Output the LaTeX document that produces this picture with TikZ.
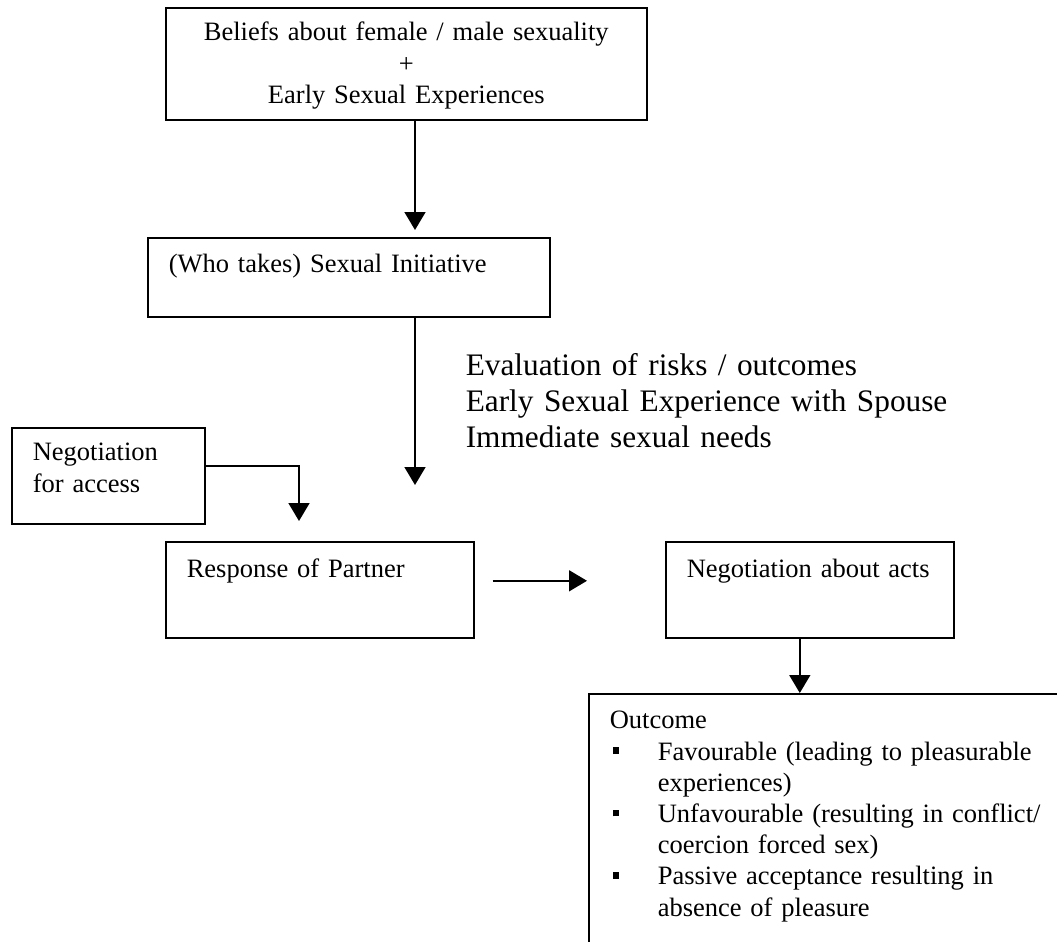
\documentclass[tikz,border=0pt]{standalone}
\usepackage{fontspec}
\setmainfont{Liberation Serif}
\usepackage{tikz}
\usetikzlibrary{arrows.meta}
\newcommand\boxfont{\fontsize{13.25pt}{15.6pt}\selectfont}
\newcommand\bigfont{\fontsize{15.65pt}{18pt}\selectfont}
\newcommand\bul{\makebox[24pt][l]{\hspace{1.5pt}\rule[3pt]{3pt}{3.3pt}}}
\tikzset{
  bx/.style={draw,line width=0.8pt,anchor=north west,inner xsep=10.5pt,inner ysep=0pt,align=left,font=\boxfont},
}

\begin{document}
\begin{tikzpicture}[x=0.5pt,y=-0.5pt,->,>={Triangle[length=9pt,width=10.5pt]},line width=0.8pt,
   txt/.style={anchor=base west,inner sep=0pt,align=left,font=\bigfont}]
\useasboundingbox (0,0) rectangle (1057,942);
% Kaesten
\node[bx,align=center,text width=219.5pt,text height=16.5pt,text depth=39.5pt] (belief) at (165,7)
  {Beliefs about female / male sexuality\\+\\Early Sexual Experiences};
\node[bx,text width=180pt,text height=17.5pt,text depth=22pt] (initiative) at (147,237)
  {(Who takes) Sexual Initiative};
\node[txt,text width=250pt] (risks) at (465,375)
  {Evaluation of risks / outcomes\\Early Sexual Experience with Spouse\\Immediate sexual needs};
\node[bx,text width=75.5pt,text height=16.5pt,text depth=31.5pt] (access) at (11,427)
  {Negotiation\\for access};
\node[bx,text width=133pt,text height=18pt,text depth=30pt] (partner) at (165,541)
  {Response of Partner};
\node[bx,text width=123pt,text height=18pt,text depth=30pt] (acts) at (665,541)
  {Negotiation about acts};
\node[bx,text width=230pt,text height=17.5pt,text depth=136pt] (outcome) at (588,693)
  {Outcome\\
   \bul Favourable (leading to pleasurable\\
   \hspace*{24pt}experiences)\\
   \bul Unfavourable (resulting in conflict/\\
   \hspace*{24pt}coercion forced sex)\\
   \bul Passive acceptance resulting in\\
   \hspace*{24pt}absence of pleasure};
\coordinate (evaltip) at (415,485);
\coordinate (accesstip) at (299,521);
% Pfeile
\draw[shorten >=3.5pt] (belief.south -| evaltip) -- (initiative.north -| evaltip);
\draw (initiative.south -| evaltip) -- (evaltip);
\draw ([yshift=5pt]access.east) -| (accesstip);
\draw ([xshift=9pt,yshift=4.5pt]partner.east) -- ([xshift=-39pt,yshift=4.5pt]acts.west);
\draw ([xshift=-5pt]acts.south) -- ([xshift=-5pt]acts.south |- outcome.north);
\end{tikzpicture}
\end{document}
